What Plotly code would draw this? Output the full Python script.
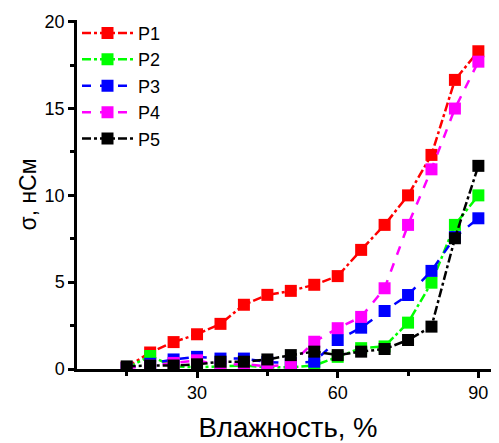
import plotly.graph_objects as go

humidity = [15, 20, 25, 30, 35, 40, 45, 50, 55, 60, 65, 70, 75, 80, 85, 90]
P1 = [0.1, 0.95, 1.55, 2.0, 2.6, 3.7, 4.27, 4.5, 4.85, 5.35, 6.86, 8.3, 10.0, 12.33, 16.65, 18.3]
P2 = [0.05, 0.75, 0.15, 0.1, 0.15, 0.2, 0.1, 0.1, 0.2, 0.7, 1.2, 1.3, 2.67, 4.97, 8.3, 10.0]
P3 = [0.05, 0.3, 0.55, 0.7, 0.6, 0.6, 0.4, 0.34, 0.42, 1.67, 2.38, 3.34, 4.26, 5.65, 7.6, 8.68]
P4 = [0.05, 0.2, 0.35, 0.5, 0.2, 0.3, 0.15, 0.25, 1.57, 2.35, 3.0, 4.65, 8.3, 11.5, 15.0, 17.7]
P5 = [0.15, 0.2, 0.2, 0.27, 0.42, 0.42, 0.55, 0.8, 1.0, 0.8, 1.0, 1.15, 1.67, 2.44, 7.53, 11.7]

names = ["P1", "P2", "P3", "P4", "P5"]
series = [P1, P2, P3, P4, P5]
colors = ["#ff0000", "#00ff00", "#0000ff", "#ff00ff", "#000000"]
dashes = ["dashdot", "dashdot", "dash", "dash", "dashdot"]

fig = go.Figure()
for name, ys, c, d in zip(names, series, colors, dashes):
    fig.add_trace(go.Scatter(
        x=humidity, y=ys, name=name, mode="lines+markers",
        line=dict(color=c, width=2.5, dash=d),
        marker=dict(symbol="square", size=12, color=c),
    ))

axis_font = dict(family="Liberation Sans, Arial", size=18, color="black")
fig.update_layout(
    width=491, height=435,
    margin=dict(l=69, r=0, t=12, b=74),
    plot_bgcolor="white", paper_bgcolor="white",
    font=dict(family="Liberation Sans, Arial", size=18, color="black"),
    legend=dict(x=0.0, y=1.015, xanchor="left", yanchor="top",
                bgcolor="rgba(0,0,0,0)", font=dict(size=18),
                itemwidth=51, tracegroupgap=0),
    xaxis=dict(range=[4.4, 94.4], tickvals=[30, 60, 90], showgrid=False, zeroline=False,
               showline=True, linecolor="black", linewidth=2.5,
               ticks="outside", ticklen=6, tickwidth=2.5, tickcolor="black",
               minor=dict(tickvals=[15, 45, 75], ticks="outside", ticklen=4, tickwidth=2.5, tickcolor="black"),
               tickfont=axis_font,
               title=dict(text="Влажность, %", font=dict(size=27.5), standoff=16)),
    yaxis=dict(range=[0, 20.1], tickvals=[0, 5, 10, 15, 20], showgrid=False, zeroline=False,
               showline=True, linecolor="black", linewidth=2.5,
               ticks="outside", ticklen=6, tickwidth=2.5, tickcolor="black",
               minor=dict(tickvals=[2.5, 7.5, 12.5, 17.5], ticks="outside", ticklen=4, tickwidth=2.5, tickcolor="black"),
               tickfont=axis_font,
               title=dict(text="σ, нСм", font=dict(size=23), standoff=2)),
)
fig.write_html("out.html")
